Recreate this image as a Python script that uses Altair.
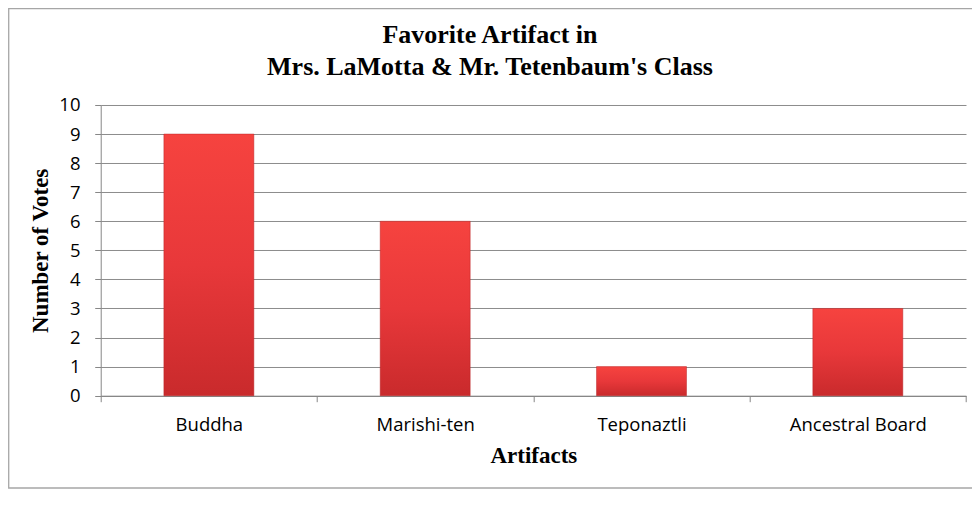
import altair as alt
import pandas as pd

categories = ["Buddha", "Marishi-ten", "Teponaztli", "Ancestral Board"]
votes = [9, 6, 1, 3]
title_lines = ["Favorite Artifact in", "Mrs. LaMotta & Mr. Tetenbaum's Class"]
y_title = "Number of Votes"
x_title = "Artifacts"

df = pd.DataFrame({"Artifact": categories, "Votes": votes})

W = 865.3
H = 290.7

gradient = {
    "gradient": "linear",
    "x1": 0, "y1": 0, "x2": 0, "y2": 1,
    "stops": [
        {"offset": 0, "color": "#f6433f"},
        {"offset": 0.5, "color": "#e8383a"},
        {"offset": 1, "color": "#c92a2c"},
    ],
}

x_enc = alt.X(
    "Artifact:N",
    sort=categories,
    scale=alt.Scale(paddingInner=0, paddingOuter=0),
    axis=alt.Axis(
        title=x_title,
        labelAngle=0,
        tickBand="extent",
        tickSize=6,
        labelPadding=14,
        grid=False,
        titleBaseline="alphabetic",
        titleY=67.3,
        titleX=W / 2,
        titleAnchor="middle",
    ),
)
y_enc = alt.Y(
    "Votes:Q",
    scale=alt.Scale(domain=[0, 10], nice=False),
    axis=alt.Axis(
        title=y_title,
        values=list(range(0, 11)),
        tickSize=6,
        labelPadding=14.7,
        grid=True,
        titleBaseline="alphabetic",
        titleAngle=-90,
        titleX=-53.7,
        titleY=H / 2,
        titleAlign="center",
    ),
)

bars = alt.Chart(df).mark_bar(
    width=alt.RelativeBandSize(0.416),
    fill=gradient,
    stroke="#b82326",
    strokeWidth=0.8,
    strokeOpacity=0.6,
).encode(x=x_enc, y=y_enc)

one = alt.Data(values=[{"a": 1}])

border = alt.Chart(one).mark_rect(
    fillOpacity=0, stroke="#a6a6a6", strokeWidth=1.3
).encode(
    x=alt.value(-92), x2=alt.value(W + 40),
    y=alt.value(-96.3), y2=alt.value(H + 92.3),
)

title_style = dict(
    font="Liberation Serif", fontSize=26, fontWeight="bold",
    color="#000000", align="center", baseline="alphabetic",
)
title1 = alt.Chart(one).mark_text(**title_style).encode(
    text=alt.value(title_lines[0]), x=alt.value(389.3), y=alt.value(-61.7)
)
title2 = alt.Chart(one).mark_text(**title_style).encode(
    text=alt.value(title_lines[1]), x=alt.value(389.3), y=alt.value(-30)
)

chart = alt.layer(border, bars, title1, title2).properties(
    width=W,
    height=H,
    padding={"left": 92.7, "top": 97, "right": 6, "bottom": 94},
    autosize=alt.AutoSizeParams(type="none"),
).configure_view(stroke=None).configure_axis(
    labelFont="Open Sans",
    labelFontSize=18.5,
    labelColor="#000000",
    titleFont="Liberation Serif",
    titleFontSize=23,
    titleFontWeight="bold",
    titleColor="#000000",
    domainColor="#868686",
    tickColor="#868686",
    gridColor="#8c8c8c",
    gridWidth=1,
    domainWidth=1,
    tickWidth=1,
)

chart.save("out.html", embed_options={"renderer": "svg", "actions": False})
